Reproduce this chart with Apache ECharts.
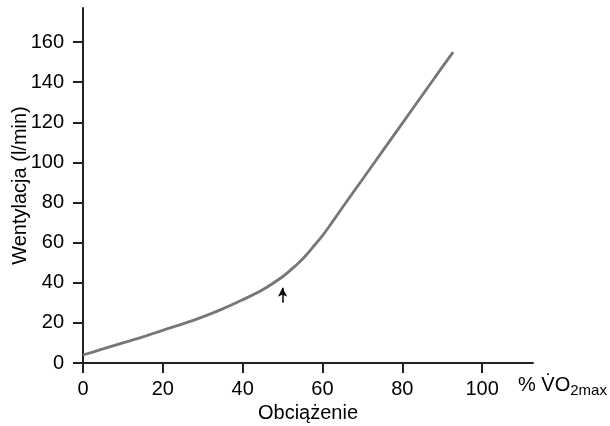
<!DOCTYPE html>
<html><head><meta charset="utf-8">
<script src="https://cdn.jsdelivr.net/npm/echarts@6/dist/echarts.min.js"></script>
<style>html,body{margin:0;padding:0;background:#fff}#c{width:610px;height:426px}</style>
</head><body><div id="c"></div>
<script>
const xValues = [0, 5, 10, 15, 20, 25, 30, 35, 40, 45, 50, 52, 54, 56, 58, 60, 62, 65, 70, 75, 80, 85, 90, 92.75];
const yValues = [4, 7, 10, 13, 16.3, 19.5, 23, 27, 31.5, 36.5, 43, 46.3, 49.8, 54, 58.7, 63.5, 69, 77.5, 91.5, 105.5, 119.5, 133.5, 147.5, 155];
const xTicks = [0, 20, 40, 60, 80, 100];
const yTicks = [0, 20, 40, 60, 80, 100, 120, 140, 160];
const arrowFrom = [50, 30];
const arrowTo = [50, 37.5];

const font = 'Liberation Sans, Arial, sans-serif';
const chart = echarts.init(document.getElementById('c'));
chart.setOption({
  animation: false,
  grid: {left: 83, right: 77, top: 8, bottom: 63, containLabel: false, outerBoundsMode: 'none'},
  xAxis: {
    type: 'value', min: 0, max: 112.75,
    name: 'Obciążenie', nameLocation: 'middle', nameGap: 40, nameMoveOverlap: false,
    nameTextStyle: {fontFamily: font, fontSize: 20, color: '#000'},
    axisLine: {show: true, onZero: false, lineStyle: {color: '#222', width: 2}},
    axisTick: {show: true, inside: false, length: 10, lineStyle: {color: '#222', width: 2}, customValues: xTicks},
    axisLabel: {fontFamily: font, fontSize: 20, color: '#000', margin: 16, customValues: xTicks},
    splitLine: {show: false}
  },
  yAxis: {
    type: 'value', min: 0, max: 177,
    name: 'Wentylacja (l/min)', nameLocation: 'middle', nameGap: 53, nameMoveOverlap: false,
    nameTextStyle: {fontFamily: font, fontSize: 20, color: '#000'},
    axisLine: {show: true, lineStyle: {color: '#222', width: 2}},
    axisTick: {show: true, inside: false, length: 10, lineStyle: {color: '#222', width: 2}, customValues: yTicks},
    axisLabel: {fontFamily: font, fontSize: 20, color: '#000', margin: 19, customValues: yTicks},
    splitLine: {show: false}
  },
  graphic: [{
    type: 'text', left: 518, top: 375,
    style: {
      text: '% V\u0307O{sub|2max}',
      rich: {sub: {fontSize: 15, fontFamily: font, fill: '#000', padding: [12, 0, 0, 0]}},
      font: '20px ' + font, fill: '#000'
    }
  }],
  series: [{
    type: 'line',
    data: xValues.map((x, i) => [x, yValues[i]]),
    smooth: 0.3,
    showSymbol: false,
    lineStyle: {color: '#777', width: 2.8},
    markLine: {
      silent: true,
      symbol: ['none', 'arrow'],
      symbolSize: [7, 9],
      label: {show: false},
      lineStyle: {color: '#000', width: 1.5, type: 'solid'},
      data: [[{coord: arrowFrom}, {coord: arrowTo}]]
    }
  }]
});
</script></body></html>
